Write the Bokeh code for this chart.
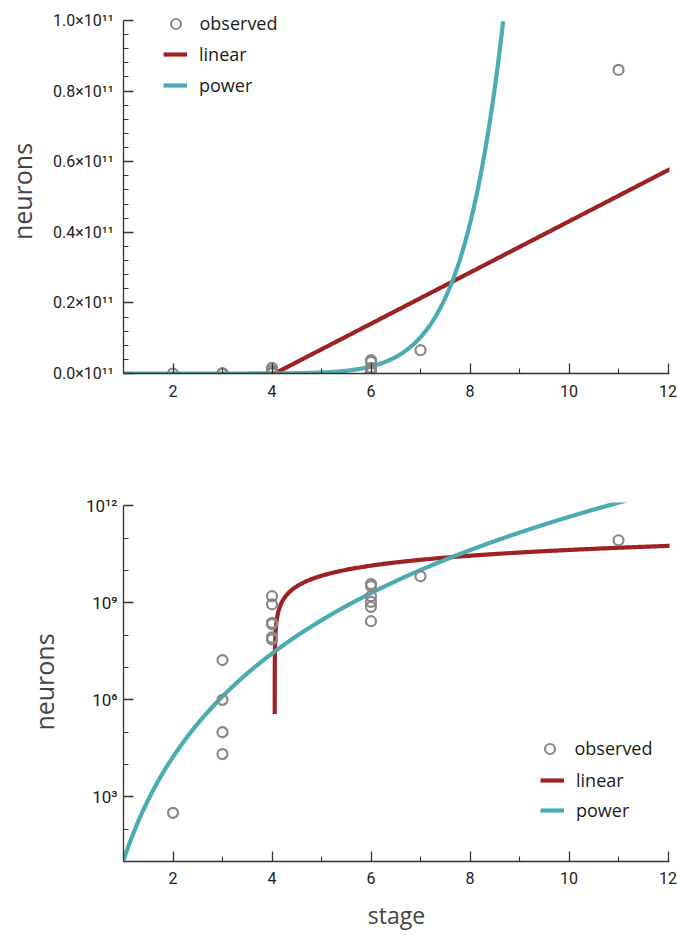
import numpy as np
from bokeh.plotting import figure
from bokeh.models import FixedTicker, Legend, LegendItem, Range1d
from bokeh.layouts import column
from bokeh.embed import file_html
from bokeh.resources import INLINE

# ---- data ----
stage = [2, 3, 3, 3, 3, 4, 4, 4, 4, 4, 4, 6, 6, 6, 6, 6, 6, 7, 11]
neurons = [3.2e2, 1.7e7, 1.0e6, 1.0e5, 2.1e4,
           1.6e9, 9.0e8, 2.4e8, 2.2e8, 8.5e7, 7.4e7,
           3.8e9, 3.3e9, 1.6e9, 1.07e9, 7.5e8, 2.7e8,
           6.6e9, 8.6e10]

# fitted models (parameters)
linear_slope = 7.25e9
linear_intercept = -2.94e10
power_coef = 10.9
power_exp = 10.62

top_axis_max = 1e11      # upper panel: axis extent
log_axis_min, log_axis_max = 10, 1e12   # lower panel: axis extent
x_min, x_max = 1, 12.03

x_ticks = [2, 4, 6, 8, 10, 12]
x_minor = [3, 5, 7, 9, 11]
lin_yticks = [0.0, 2e10, 4e10, 6e10, 8e10, 1e11]
lin_ylabels = ["0.0×10¹¹", "0.2×10¹¹", "0.4×10¹¹", "0.6×10¹¹", "0.8×10¹¹", "1.0×10¹¹"]
lin_yminor = [4e9, 8e9, 1.2e10, 1.6e10, 2.4e10, 2.8e10, 3.2e10, 3.6e10,
              4.4e10, 4.8e10, 5.2e10, 5.6e10, 6.4e10, 6.8e10, 7.2e10, 7.6e10,
              8.4e10, 8.8e10, 9.2e10, 9.6e10]
log_yticks = [1e3, 1e6, 1e9, 1e12]
log_ylabels = ["10³", "10⁶", "10⁹", "10¹²"]
log_yminor = [1e2, 1e4, 1e5, 1e7, 1e8, 1e10, 1e11]

RED = "#9e2222"
TEAL = "#4aabb0"
GRAY = "#888888"
AXC = "#333333"
TICK_FONT = "Roboto"
TEXT_FONT = "Open Sans"

# model curves
x_lin = np.concatenate([np.linspace(x_min, 12.05, 400),
                        -linear_intercept / linear_slope + np.geomspace(5e-5, 0.5, 200)])
x_lin.sort()
y_lin = linear_slope * x_lin + linear_intercept
x_pow = np.linspace(x_min, 12.05, 6000)
y_pow = power_coef * x_pow ** power_exp
pos = y_lin > 0
in_top = y_pow <= top_axis_max


def style(p):
    p.outline_line_color = None
    p.grid.visible = False
    for ax in (p.xaxis[0], p.yaxis[0]):
        ax.axis_line_color = AXC
        ax.axis_line_width = 1.3
        ax.major_tick_line_color = AXC
        ax.minor_tick_line_color = AXC
        ax.major_tick_line_width = 1.3
        ax.minor_tick_line_width = 1.1
        ax.major_tick_in = 10
        ax.major_tick_out = 0
        ax.minor_tick_in = 5
        ax.minor_tick_out = 0
        ax.major_label_text_font = TICK_FONT
        ax.major_label_text_color = "#222222"
        ax.axis_label_text_font = TEXT_FONT
        ax.axis_label_text_font_style = "normal"
        ax.axis_label_text_color = "#444444"
    p.xaxis[0].ticker = FixedTicker(ticks=x_ticks, minor_ticks=x_minor)
    p.xaxis[0].major_label_text_font_size = "16px"
    p.yaxis[0].major_label_text_font_size = "16px"
    p.yaxis[0].axis_label_text_font_size = "25px"
    p.xaxis[0].axis_label_text_font_size = "23px"


def add_legends(p, r_obs, r_lin, r_pow, ax, ay, bx, by, sa, sb, spacing):
    la = Legend(items=[LegendItem(label="observed", renderers=[r_obs])],
                location=(ax, ay), glyph_width=25, glyph_height=25, label_height=25,
                label_standoff=sa, padding=0, margin=0, border_line_color=None,
                background_fill_alpha=0, label_text_font=TEXT_FONT,
                label_text_font_size="18px", label_text_color="#1a1a1a")
    lb = Legend(items=[LegendItem(label="linear", renderers=[r_lin]),
                       LegendItem(label="power", renderers=[r_pow])],
                location=(bx, by), glyph_width=24, glyph_height=24, label_height=24,
                spacing=spacing, label_standoff=sb, padding=0, margin=0,
                border_line_color=None, background_fill_alpha=0,
                label_text_font=TEXT_FONT, label_text_font_size="18px",
                label_text_color="#1a1a1a")
    p.add_layout(la)
    p.add_layout(lb)


# ---- top: linear axes ----
p1 = figure(width=677, height=450, output_backend="svg", toolbar_location=None,
            x_range=Range1d(x_min, x_max), y_range=Range1d(0, top_axis_max * 364 / 353),
            min_border_left=123, min_border_right=8, min_border_top=9, min_border_bottom=77)
style(p1)
p1.yaxis[0].ticker = FixedTicker(ticks=lin_yticks, minor_ticks=lin_yminor)
p1.yaxis[0].major_label_overrides = dict(zip(lin_yticks, lin_ylabels))
p1.yaxis[0].bounds = (0, top_axis_max)
p1.yaxis[0].major_label_standoff = 10
p1.xaxis[0].major_label_standoff = 11
p1.yaxis[0].axis_label = "neurons"
p1.yaxis[0].axis_label_standoff = 11

r1_lin = p1.line(x_lin, y_lin, line_color=RED, line_width=4.2)
r1_pow = p1.line(x_pow[in_top], y_pow[in_top], line_color=TEAL, line_width=4.2)
r1_obs = p1.scatter(stage, neurons, marker="circle", size=10, fill_color=None,
                    line_color=GRAY, line_width=2.2)
add_legends(p1, r1_obs, r1_lin, r1_pow, 39.5, 337.5, 40, 276, 12, 12, 7)

# ---- bottom: log axes ----
p2 = figure(width=677, height=485, output_backend="svg", toolbar_location=None,
            y_axis_type="log", x_range=Range1d(x_min, x_max),
            y_range=Range1d(log_axis_min, log_axis_max * 10 ** 0.102),
            min_border_left=123, min_border_right=8, min_border_top=52, min_border_bottom=74)
style(p2)
p2.yaxis[0].ticker = FixedTicker(ticks=log_yticks, minor_ticks=log_yminor)
p2.yaxis[0].major_label_overrides = dict(zip(log_yticks, log_ylabels))
p2.yaxis[0].bounds = (log_axis_min, log_axis_max)
p2.yaxis[0].major_label_text_font_size = "17px"
p2.yaxis[0].major_label_standoff = 6
p2.xaxis[0].major_label_standoff = 10
p2.yaxis[0].axis_label = "neurons"
p2.yaxis[0].axis_label_standoff = 22
p2.xaxis[0].axis_label = "stage"
p2.xaxis[0].axis_label_standoff = 12

r2_lin = p2.line(x_lin[pos], y_lin[pos], line_color=RED, line_width=4.2)
r2_pow = p2.line(x_pow, y_pow, line_color=TEAL, line_width=4.2)
r2_obs = p2.scatter(stage, neurons, marker="circle", size=10, fill_color=None,
                    line_color=GRAY, line_width=2.2)
add_legends(p2, r2_obs, r2_lin, r2_pow, 413.5, 100.5, 417, 39.5, 13, 12, 6)

layout = column(p1, p2, spacing=0)
open("out.html", "w").write(file_html(layout, INLINE))
